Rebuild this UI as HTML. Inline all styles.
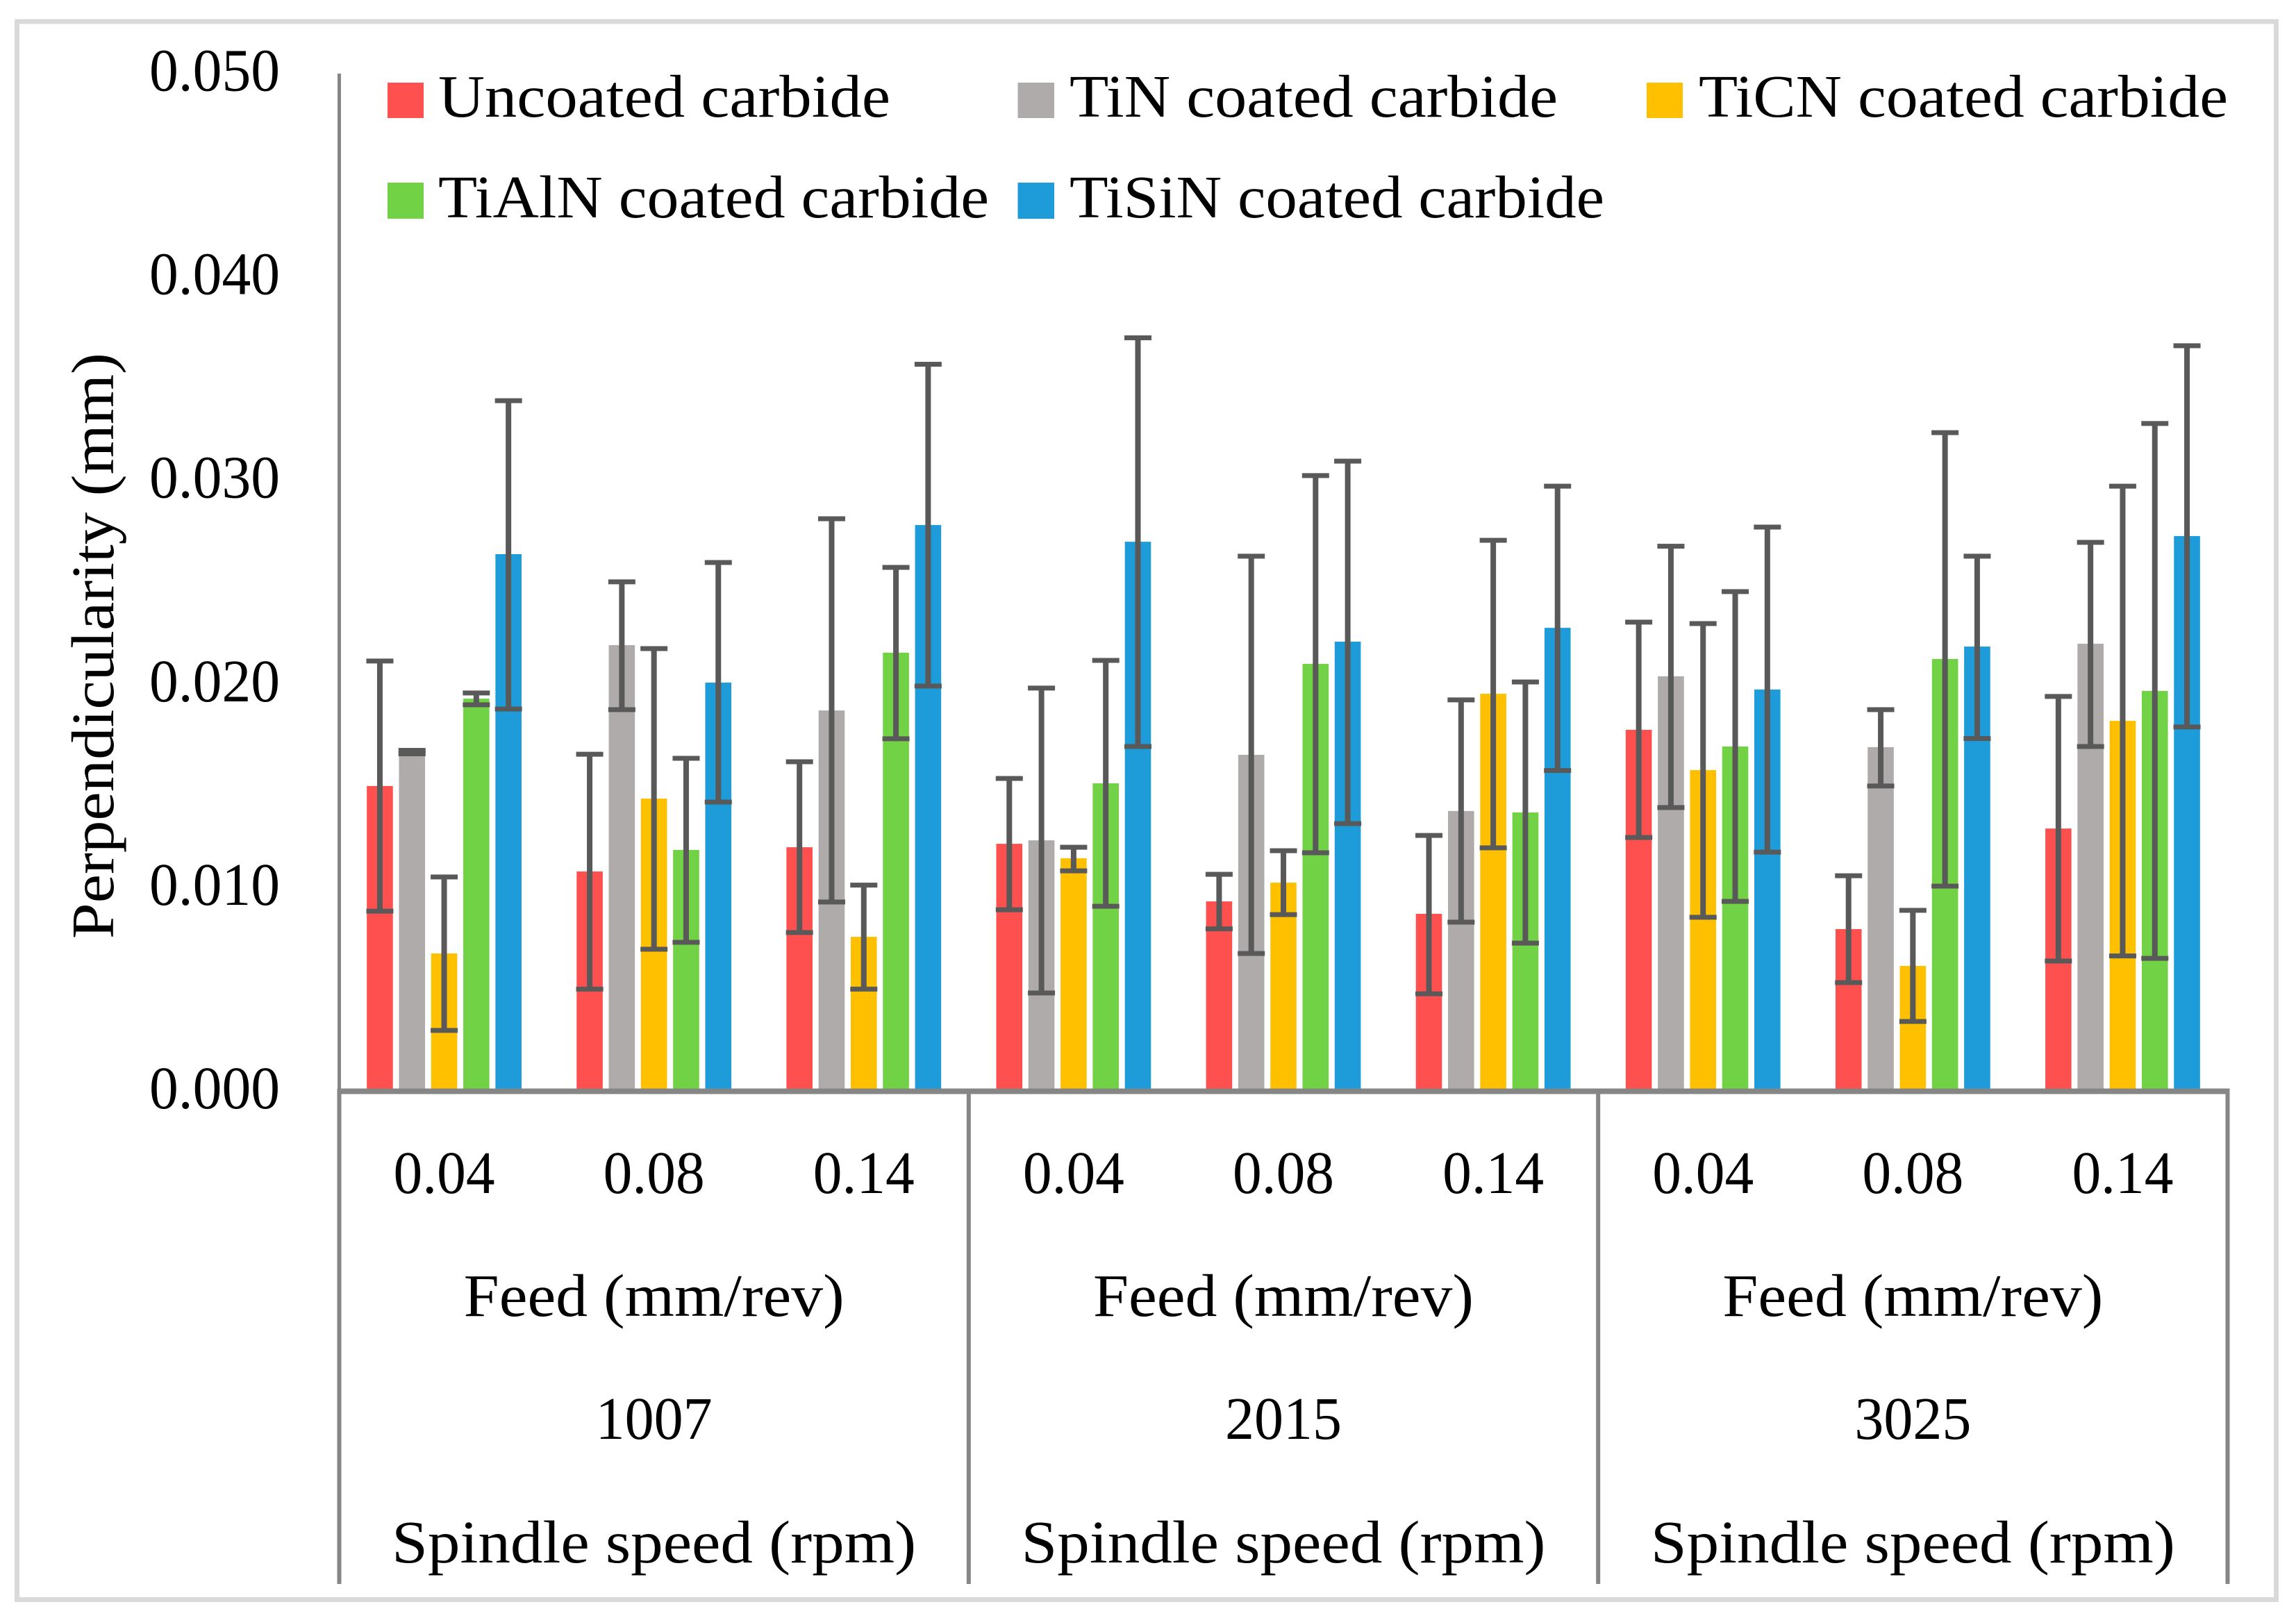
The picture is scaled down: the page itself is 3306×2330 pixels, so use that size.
<!DOCTYPE html>
<html lang="en">
<head>
<meta charset="utf-8">
<title>Perpendicularity by coating, feed and spindle speed</title>
<style>
html,body{margin:0;padding:0;background:#fff;width:3306px;height:2330px;overflow:hidden}
svg{display:block}
text{font-family:"Liberation Serif",serif;fill:#000}
</style>
</head>
<body>
<svg id="chart" xmlns="http://www.w3.org/2000/svg" width="3306" height="2330" viewBox="0 0 3306 2330">
  <rect x="24.5" y="31" width="3253" height="2272.5" fill="#fff" stroke="#d9d9d9" stroke-width="7"/>
  <g id="bars"></g>
  <g id="axes"></g>
  <g id="labels"></g>
  <text transform="translate(163,1352) rotate(-90)" font-size="87" textLength="844" lengthAdjust="spacingAndGlyphs">Perpendicularity (mm)</text>
  <g>
    <g>
      <rect x="558" y="119" width="52" height="51" fill="#ff5050"/>
      <text x="631" y="168" font-size="87" textLength="651" lengthAdjust="spacingAndGlyphs">Uncoated carbide</text>
    </g>
    <g>
      <rect x="1465.5" y="119" width="52.5" height="51" fill="#afabab"/>
      <text x="1540" y="168" font-size="87" textLength="703" lengthAdjust="spacingAndGlyphs">TiN coated carbide</text>
    </g>
    <g>
      <rect x="2371" y="119" width="52" height="51" fill="#ffc000"/>
      <text x="2446" y="168" font-size="87" textLength="762" lengthAdjust="spacingAndGlyphs">TiCN coated carbide</text>
    </g>
    <g>
      <rect x="558" y="263" width="52" height="52" fill="#70d244"/>
      <text x="631" y="313" font-size="87" textLength="793" lengthAdjust="spacingAndGlyphs">TiAlN coated carbide</text>
    </g>
    <g>
      <rect x="1465.5" y="263" width="52.5" height="52" fill="#1d9cd9"/>
      <text x="1540" y="313" font-size="87" textLength="770" lengthAdjust="spacingAndGlyphs">TiSiN coated carbide</text>
    </g>
  </g>
</svg>
<script>
// ---- data (mm) ----
const yTicks = [0.000, 0.010, 0.020, 0.030, 0.040, 0.050];
const feedLabels = ["0.04", "0.08", "0.14", "0.04", "0.08", "0.14", "0.04", "0.08", "0.14"];
const speedLabels = ["1007", "2015", "3025"];
const seriesNames = ["uncoated", "tin", "ticn", "tialn", "tisin"];
const seriesColors = ["#ff5050", "#afabab", "#ffc000", "#70d244", "#1d9cd9"];

const uncoated = [0.01500, 0.01080, 0.01199, 0.01216, 0.00933, 0.00872, 0.01776, 0.00797, 0.01291];
const tin      = [0.01650, 0.02192, 0.01871, 0.01233, 0.01653, 0.01377, 0.02039, 0.01691, 0.02199];
const ticn     = [0.00677, 0.01438, 0.00759, 0.01145, 0.01025, 0.01953, 0.01578, 0.00616, 0.01820];
const tialn    = [0.01929, 0.01186, 0.02155, 0.01513, 0.02100, 0.01370, 0.01694, 0.02124, 0.01967];
const tisin    = [0.02639, 0.02008, 0.02782, 0.02700, 0.02209, 0.02277, 0.01974, 0.02185, 0.02728];

const uncoatedHi = [0.02114, 0.01656, 0.01619, 0.01537, 0.01066, 0.01257, 0.02305, 0.01059, 0.01940];
const uncoatedLo = [0.00885, 0.00502, 0.00780, 0.00892, 0.00798, 0.00479, 0.01247, 0.00534, 0.00640];
const tinHi      = [0.01675, 0.02503, 0.02813, 0.01981, 0.02629, 0.01923, 0.02678, 0.01875, 0.02697];
const tinLo      = [0.01658, 0.01875, 0.00930, 0.00483, 0.00677, 0.00831, 0.01394, 0.01500, 0.01694];
const ticnHi     = [0.01053, 0.02175, 0.01013, 0.01199, 0.01182, 0.02707, 0.02298, 0.00889, 0.02973];
const ticnLo     = [0.00299, 0.00698, 0.00502, 0.01083, 0.00868, 0.01196, 0.00855, 0.00343, 0.00665];
const tialnHi    = [0.01957, 0.01636, 0.02574, 0.02117, 0.03025, 0.02011, 0.02455, 0.03236, 0.03281];
const tialnLo    = [0.01899, 0.00732, 0.01732, 0.00909, 0.01172, 0.00728, 0.00933, 0.01008, 0.00653];
const tisinHi    = [0.03393, 0.02598, 0.03572, 0.03702, 0.03096, 0.02973, 0.02772, 0.02629, 0.03663];
const tisinLo    = [0.01878, 0.01421, 0.01991, 0.01694, 0.01315, 0.01576, 0.01175, 0.01733, 0.01790];

const seriesValues = [uncoated, tin, ticn, tialn, tisin];
const seriesHi = [uncoatedHi, tinHi, ticnHi, tialnHi, tisinHi];
const seriesLo = [uncoatedLo, tinLo, ticnLo, tialnLo, tisinLo];

// ---- axis functions ----
const NS = "http://www.w3.org/2000/svg";
const plotLeft = 488.5, plotRight = 3207.5, baseY = 1571.5, pxPerMm = 29310;
const axisGrey = "#868686", errGrey = "#595959";
const catW = (plotRight - plotLeft) / feedLabels.length;
const seriesStep = 46.3, barW = 37.6, capW = 39, capH = 7, stemW = 8;
function yScale(v) { return baseY - v * pxPerMm; }
function catCenter(i) { return plotLeft + (i + 0.5) * catW; }
function barCenter(i, s) { return catCenter(i) + (s - (seriesValues.length - 1) / 2) * seriesStep; }
function make(tag, parent) {
  const el = document.createElementNS(NS, tag);
  parent.appendChild(el);
  return el;
}
function setAttrs(el, a) { for (const k in a) el.setAttribute(k, a[k]); return el; }

// ---- bars and error bars ----
const barsG = document.getElementById("bars");
seriesValues.forEach(function (vals, s) {
  vals.forEach(function (v, i) {
    const cx = barCenter(i, s);
    const bar = make("rect", barsG);
    
    
    setAttrs(bar, { x: cx - barW / 2, y: yScale(v), width: barW, height: baseY - yScale(v), fill: seriesColors[s] });
    bar.setAttribute("data-series", seriesNames[s]);
  });
});
seriesValues.forEach(function (vals, s) {
  vals.forEach(function (v, i) {
    const cx = barCenter(i, s);
    const hi = yScale(seriesHi[s][i]), lo = yScale(seriesLo[s][i]);
    const stem = make("rect", barsG);
    
    
    setAttrs(stem, { x: cx - stemW / 2, y: hi, width: stemW, height: lo - hi, fill: errGrey });
    const capTop = make("rect", barsG);
    
    
    setAttrs(capTop, { x: cx - capW / 2, y: hi - capH / 2, width: capW, height: capH, fill: errGrey });
    const capBot = make("rect", barsG);
    
    
    setAttrs(capBot, { x: cx - capW / 2, y: lo - capH / 2, width: capW, height: capH, fill: errGrey });
  });
});

// ---- axes ----
const axesG = document.getElementById("axes");
const yAxis = make("rect", axesG);


setAttrs(yAxis, { x: plotLeft - 2.5, y: yScale(0.05), width: 5, height: baseY - yScale(0.05), fill: axisGrey });
const xAxis = make("rect", axesG);


setAttrs(xAxis, { x: plotLeft - 3, y: baseY - 4, width: plotRight - plotLeft + 6, height: 8, fill: axisGrey });
speedLabels.concat([""]).forEach(function (_, k) {
  const sep = make("rect", axesG);
  
  
  setAttrs(sep, { x: plotLeft + k * 3 * catW - 3, y: baseY, width: 6, height: 2281 - baseY, fill: axisGrey });
});

// ---- labels ----
const labelsG = document.getElementById("labels");
function label(el, x, y, str, width, anchor) {
  setAttrs(el, { x: x, y: y, "font-size": 87, "text-anchor": anchor, textLength: width, lengthAdjust: "spacingAndGlyphs" });
  el.textContent = str;
}
yTicks.forEach(function (t) {
  const el = make("text", labelsG);
  
  
  label(el, 403, yScale(t) + 24.5, t.toFixed(3), 188, "end");
});
feedLabels.forEach(function (f, i) {
  const el = make("text", labelsG);
  
  
  label(el, catCenter(i), 1718, f, 146, "middle");
});
speedLabels.forEach(function (sp, k) {
  const cx = plotLeft + (k + 0.5) * 3 * catW;
  const feedTitle = make("text", labelsG);
  
  
  label(feedTitle, cx, 1895, "Feed (mm/rev)", 548, "middle");
  const speed = make("text", labelsG);
  
  
  label(speed, cx, 2072, sp, 168, "middle");
  const speedTitle = make("text", labelsG);
  
  
  label(speedTitle, cx, 2250, "Spindle speed (rpm)", 755, "middle");
});
</script>
</body>
</html>
